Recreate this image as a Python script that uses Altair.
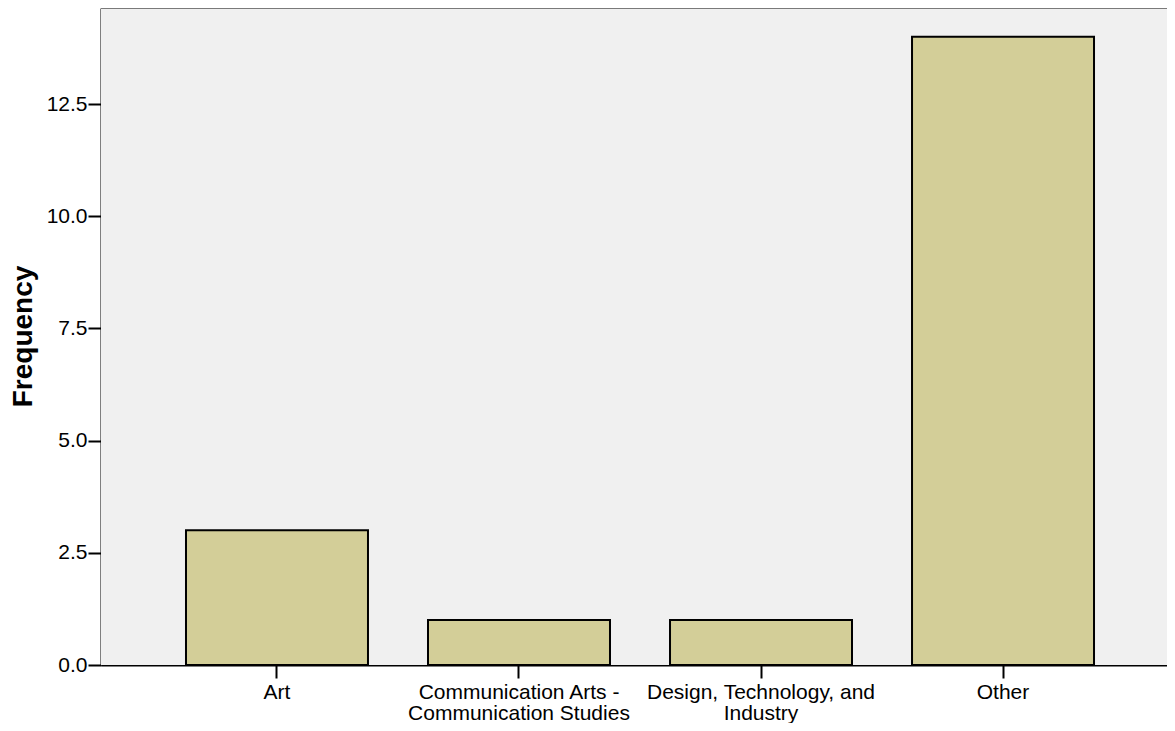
import json
import altair as alt
import pandas as pd

categories = ["Art", "Communication Arts - Communication Studies",
              "Design, Technology, and Industry", "Other"]
frequencies = [3, 1, 1, 14]
label_lines = {
    "Communication Arts - Communication Studies": ["Communication Arts -", "Communication Studies"],
    "Design, Technology, and Industry": ["Design, Technology, and", "Industry"],
}
y_ticks = [0.0, 2.5, 5.0, 7.5, 10.0, 12.5]
y_max = 14.64

df = pd.DataFrame({"cat": categories, "freq": frequencies})

expr = "datum.label"
for k, v in label_lines.items():
    expr = f"datum.value == {json.dumps(k)} ? {json.dumps(v)} : ({expr})"

W, H = 1066, 657
FONT = "Liberation Sans"

bg = alt.Chart(df).mark_rect(color="#f0f0f0").encode(
    x=alt.value(0), x2=alt.value(W), y=alt.value(0), y2=alt.value(H)
)

bars = alt.Chart(df).mark_bar(
    fill="#d3ce98", stroke="#000000", strokeWidth=2
).encode(
    x=alt.X("cat:N", sort=categories,
            scale=alt.Scale(paddingInner=0.248, paddingOuter=0.3264, align=0.538),
            axis=alt.Axis(title=None, labelAngle=0, labelExpr=expr,
                          labelFontSize=21, labelLineHeight=21, labelPadding=3,
                          labelLimit=400,
                          labelFont=FONT, labelColor="#000000",
                          domainColor="#000000", domainWidth=2,
                          tickColor="#000000", tickWidth=2, tickSize=13)),
    y=alt.Y("freq:Q", scale=alt.Scale(domain=[0, y_max], nice=False),
            axis=alt.Axis(title="Frequency", values=y_ticks, format=".1f",
                          grid=False, labelFontSize=21, labelFont=FONT,
                          labelColor="#000000", labelPadding=1,
                          domainColor="#000000", domainWidth=2,
                          tickColor="#000000", tickWidth=2, tickSize=13,
                          titleFont=FONT, titleFontSize=28, titleFontWeight="bold",
                          titleColor="#000000", titleAngle=-90,
                          titleX=-78, titleY=328, titleAlign="center",
                          titleBaseline="middle")),
)

top_line = alt.Chart(df).mark_rule(color="#7a7a7a", strokeWidth=1.2).encode(
    x=alt.value(0), x2=alt.value(W), y=alt.value(0.5)
)

chart = alt.layer(bg, top_line, bars).properties(
    width=W, height=H,
    autosize=alt.AutoSizeParams(type="none"),
    padding={"left": 93, "top": 0, "right": 0, "bottom": 58},
).configure_view(stroke="transparent").configure(background="#ffffff")

chart.save("out.html", embed_options={"renderer": "svg", "actions": False})
